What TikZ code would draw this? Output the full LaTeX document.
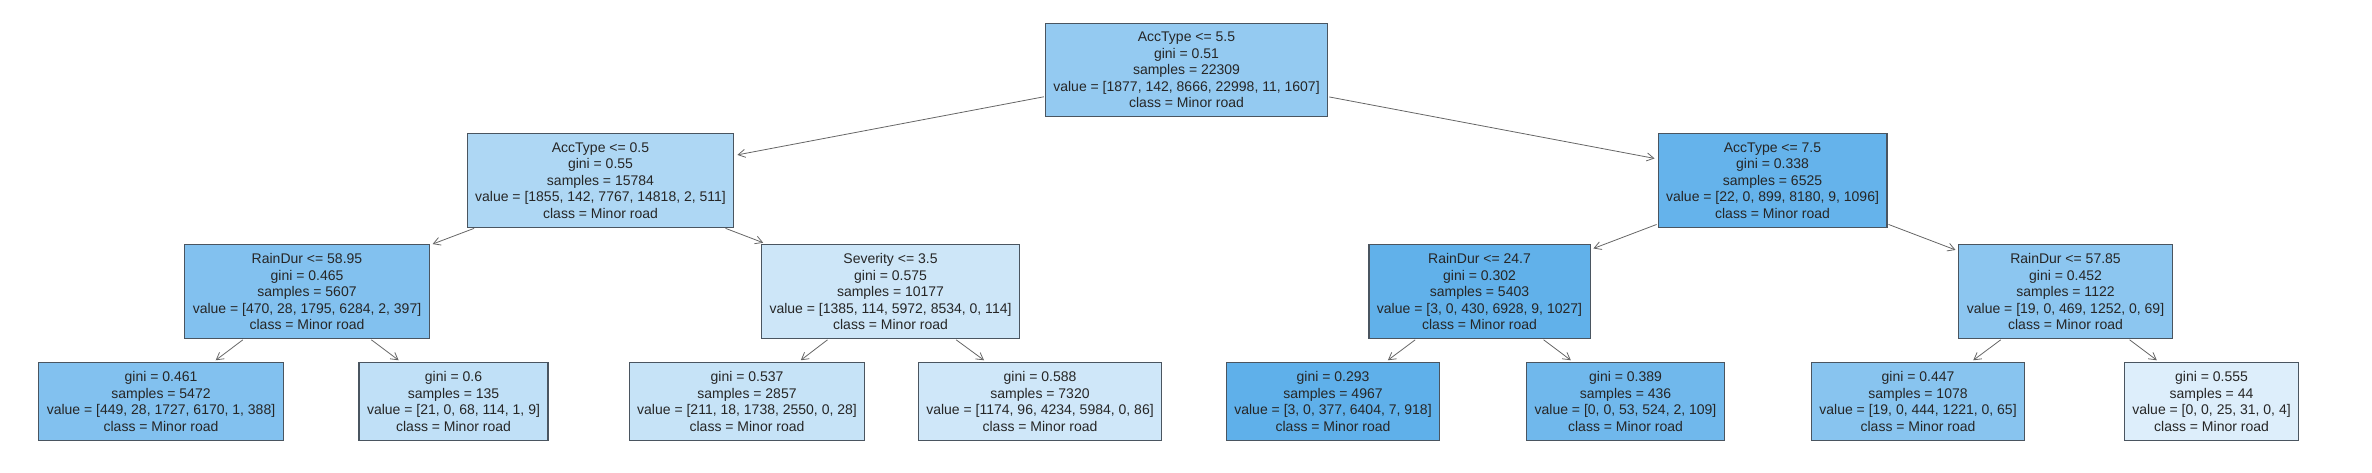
\documentclass[tikz,border=0pt]{standalone}
\usepackage{fontspec}
\setmainfont{Liberation Sans}
\usepackage{tikz}
\usetikzlibrary{arrows.meta}
\definecolor{minor}{HTML}{399DE5}
\definecolor{ink}{HTML}{262626}
\definecolor{rim}{HTML}{4A5560}
\tikzset{
  >={Straight Barb[length=7pt,width=8pt]},
  split/.style={draw=rim,line width=1.1pt,align=center,inner xsep=8pt,inner ysep=9pt,font=\fontsize{14}{16.5}\selectfont,text=ink},
  leaf/.style={split},
  edge/.style={->,draw=black!60,line width=0.8pt,shorten >=3pt,shorten <=1pt}
}
\begin{document}
\begin{tikzpicture}[x=1pt,y=-1pt]
  \useasboundingbox (0,0) rectangle (2372,472);

  \node[split,fill=minor!54!white] (root) at (1186.5,70) {AccType <= 5.5\\gini = 0.51\\samples = 22309\\value = [1877, 142, 8666, 22998, 11, 1607]\\class = Minor road};

  \node[split,fill=minor!41!white] (accL) at (600.5,180.5) {AccType <= 0.5\\gini = 0.55\\samples = 15784\\value = [1855, 142, 7767, 14818, 2, 511]\\class = Minor road};
  \node[split,fill=minor!78!white] (accR) at (1772.5,180.5) {AccType <= 7.5\\gini = 0.338\\samples = 6525\\value = [22, 0, 899, 8180, 9, 1096]\\class = Minor road};

  \node[split,fill=minor!63!white] (rainA) at (307,291.5) {RainDur <= 58.95\\gini = 0.465\\samples = 5607\\value = [470, 28, 1795, 6284, 2, 397]\\class = Minor road};
  \node[split,fill=minor!25!white] (sev) at (890.5,291.5) {Severity <= 3.5\\gini = 0.575\\samples = 10177\\value = [1385, 114, 5972, 8534, 0, 114]\\class = Minor road};
  \node[split,fill=minor!80!white] (rainB) at (1479.5,291.5) {RainDur <= 24.7\\gini = 0.302\\samples = 5403\\value = [3, 0, 430, 6928, 9, 1027]\\class = Minor road};
  \node[split,fill=minor!58!white] (rainC) at (2065.5,291.5) {RainDur <= 57.85\\gini = 0.452\\samples = 1122\\value = [19, 0, 469, 1252, 0, 69]\\class = Minor road};

  \node[leaf,fill=minor!63!white] (lf1) at (161,401.5) {gini = 0.461\\samples = 5472\\value = [449, 28, 1727, 6170, 1, 388]\\class = Minor road};
  \node[leaf,fill=minor!32!white] (lf2) at (453.5,401.5) {gini = 0.6\\samples = 135\\value = [21, 0, 68, 114, 1, 9]\\class = Minor road};
  \node[leaf,fill=minor!29!white] (lf3) at (747,401.5) {gini = 0.537\\samples = 2857\\value = [211, 18, 1738, 2550, 0, 28]\\class = Minor road};
  \node[leaf,fill=minor!24!white] (lf4) at (1040,401.5) {gini = 0.588\\samples = 7320\\value = [1174, 96, 4234, 5984, 0, 86]\\class = Minor road};
  \node[leaf,fill=minor!81!white] (lf5) at (1333,401.5) {gini = 0.293\\samples = 4967\\value = [3, 0, 377, 6404, 7, 918]\\class = Minor road};
  \node[leaf,fill=minor!72!white] (lf6) at (1625.5,401.5) {gini = 0.389\\samples = 436\\value = [0, 0, 53, 524, 2, 109]\\class = Minor road};
  \node[leaf,fill=minor!60!white] (lf7) at (1918,401.5) {gini = 0.447\\samples = 1078\\value = [19, 0, 444, 1221, 0, 65]\\class = Minor road};
  \node[leaf,fill=minor!17!white] (lf8) at (2211.5,401.5) {gini = 0.555\\samples = 44\\value = [0, 0, 25, 31, 0, 4]\\class = Minor road};

  \draw[edge] (root) -- (accL);
  \draw[edge] (root) -- (accR);
  \draw[edge] (accL) -- (rainA);
  \draw[edge] (accL) -- (sev);
  \draw[edge] (accR) -- (rainB);
  \draw[edge] (accR) -- (rainC);
  \draw[edge] (rainA) -- (lf1);
  \draw[edge] (rainA) -- (lf2);
  \draw[edge] (sev) -- (lf3);
  \draw[edge] (sev) -- (lf4);
  \draw[edge] (rainB) -- (lf5);
  \draw[edge] (rainB) -- (lf6);
  \draw[edge] (rainC) -- (lf7);
  \draw[edge] (rainC) -- (lf8);
\end{tikzpicture}
\end{document}
